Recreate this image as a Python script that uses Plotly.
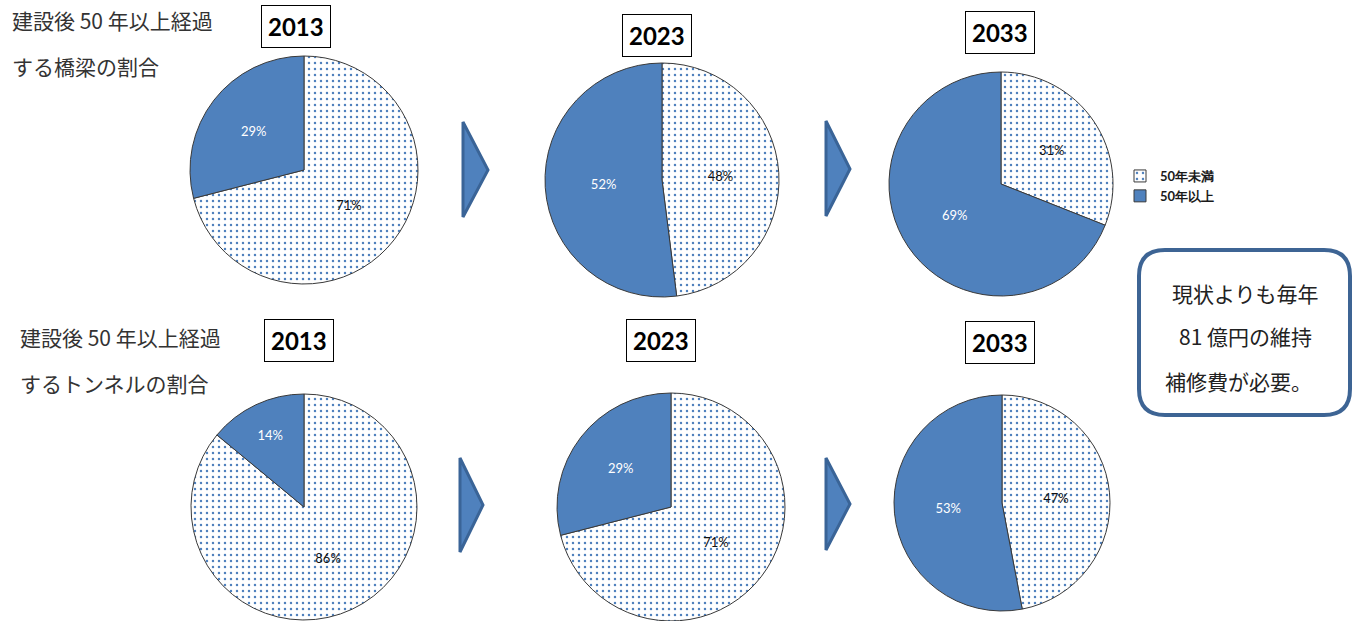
import plotly.graph_objects as go

W, H = 1359, 621

# ---- data ----
years = ["2013", "2023", "2033"]
categories = ["50年未満", "50年以上"]
bridge_under50 = [71, 48, 31]
bridge_over50 = [29, 52, 69]
tunnel_under50 = [86, 71, 47]
tunnel_over50 = [14, 29, 53]
bridge_title = ["建設後 50 年以上経過", "する橋梁の割合"]
tunnel_title = ["建設後 50 年以上経過", "するトンネルの割合"]
note_lines = ["現状よりも毎年", "81 億円の維持", "補修費が必要。"]

BLUE = "#4F81BD"
FONT_CJK = "Noto Sans CJK JP"
FONT_LAT = "Lato"


def X(px):
    return px / W


def Y(py):
    return 1 - py / H


# pie layout (pixel centre, radius)
top_geom = [(304, 170, 114), (662, 180, 117), (1001, 184, 112)]
bot_geom = [(304, 507, 113), (671, 507, 114), (1002, 503, 108)]

fig = go.Figure()


def add_pie(under, over, geom, legend, show):
    cx, cy, r = geom
    fig.add_trace(go.Pie(
        labels=categories,
        values=[under, over],
        sort=False,
        direction="clockwise",
        rotation=0,
        domain=dict(x=[X(cx - r), X(cx + r)], y=[max(0, Y(cy + r)), min(1, Y(cy - r))]),
        marker=dict(
            colors=["white", BLUE],
            line=dict(color="#3a3a3a", width=1),
            pattern=dict(shape=[".", ""], fgcolor=BLUE, bgcolor="white",
                         size=6, solidity=0.13, fillmode="replace"),
        ),
        texttemplate="%{value}%",
        textposition="inside",
        insidetextorientation="horizontal",
        textfont=dict(family=FONT_LAT, size=13, color=["#111111", "white"]),
        hoverinfo="label+value",
        legend=legend,
        showlegend=show,
    ))


for i in range(3):
    add_pie(bridge_under50[i], bridge_over50[i], top_geom[i], "legend", i == 0)
for i in range(3):
    add_pie(tunnel_under50[i], tunnel_over50[i], bot_geom[i], "legend2", i == 0)

annotations = []

# year boxes
top_year_pos = [(296, 27), (657, 35), (1000, 32)]
bot_year_pos = [(299, 340), (661, 340), (1000, 342)]
for yr, (px, py) in list(zip(years, top_year_pos)) + list(zip(years, bot_year_pos)):
    annotations.append(dict(
        x=X(px), y=Y(py), xref="paper", yref="paper", text=f"<b>{yr}</b>",
        showarrow=False, font=dict(family=FONT_LAT, size=24, color="black"),
        bordercolor="black", borderwidth=1, borderpad=6, bgcolor="white",
        xanchor="center", yanchor="middle",
    ))

# left titles
for txt, (px, py) in zip(bridge_title, [(10, 20), (10, 66)]):
    annotations.append(dict(x=X(px), y=Y(py), xref="paper", yref="paper", text=txt,
                            showarrow=False, xanchor="left", yanchor="middle",
                            font=dict(family=FONT_CJK, size=21, color="#333333")))
for txt, (px, py) in zip(tunnel_title, [(18, 337), (18, 383)]):
    annotations.append(dict(x=X(px), y=Y(py), xref="paper", yref="paper", text=txt,
                            showarrow=False, xanchor="left", yanchor="middle",
                            font=dict(family=FONT_CJK, size=21, color="#333333")))

# note box text
for txt, (px, py) in zip(note_lines, [(1245, 293), (1245, 336), (1238, 381)]):
    annotations.append(dict(x=X(px), y=Y(py), xref="paper", yref="paper", text=txt,
                            showarrow=False, xanchor="center", yanchor="middle",
                            font=dict(family=FONT_CJK, size=21, color="#222222")))

shapes = []


def tri(x0, ytop, xtip, ytip, ybot):
    return (f"M{X(x0)},{Y(ytop)} L{X(xtip)},{Y(ytip)} L{X(x0)},{Y(ybot)} Z")


for (x0, yt, xt, ytp, yb) in [(463, 122, 488, 170, 217), (826, 121, 850, 169, 216),
                              (460, 458, 483, 505, 552), (826, 458, 850, 504, 550)]:
    shapes.append(dict(type="path", xref="paper", yref="paper", path=tri(x0, yt, xt, ytp, yb),
                       fillcolor=BLUE, line=dict(color="#3A6497", width=3), layer="above"))

# rounded note box
bx0, by0, bx1, by1, rr = 1139, 250, 1350, 415, 26
p = (f"M{X(bx0 + rr)},{Y(by0)} L{X(bx1 - rr)},{Y(by0)} Q{X(bx1)},{Y(by0)} {X(bx1)},{Y(by0 + rr)} "
     f"L{X(bx1)},{Y(by1 - rr)} Q{X(bx1)},{Y(by1)} {X(bx1 - rr)},{Y(by1)} "
     f"L{X(bx0 + rr)},{Y(by1)} Q{X(bx0)},{Y(by1)} {X(bx0)},{Y(by1 - rr)} "
     f"L{X(bx0)},{Y(by0 + rr)} Q{X(bx0)},{Y(by0)} {X(bx0 + rr)},{Y(by0)} Z")
shapes.append(dict(type="path", xref="paper", yref="paper", path=p,
                   fillcolor="white", line=dict(color="#3D6494", width=4)))

legend_style = dict(font=dict(family=FONT_LAT, size=13, color="#1a1a1a", weight="bold"),
                    bgcolor="rgba(0,0,0,0)", itemwidth=30, xanchor="left", yanchor="top",
                    tracegroupgap=0)

fig.update_layout(
    width=W, height=H,
    margin=dict(l=0, r=0, t=0, b=0),
    paper_bgcolor="white", plot_bgcolor="white",
    annotations=annotations,
    shapes=shapes,
    legend=dict(x=X(1120), y=Y(161), **legend_style),
    legend2=dict(x=X(1117), y=Y(466), **legend_style),
)

fig.write_html("out.html")
